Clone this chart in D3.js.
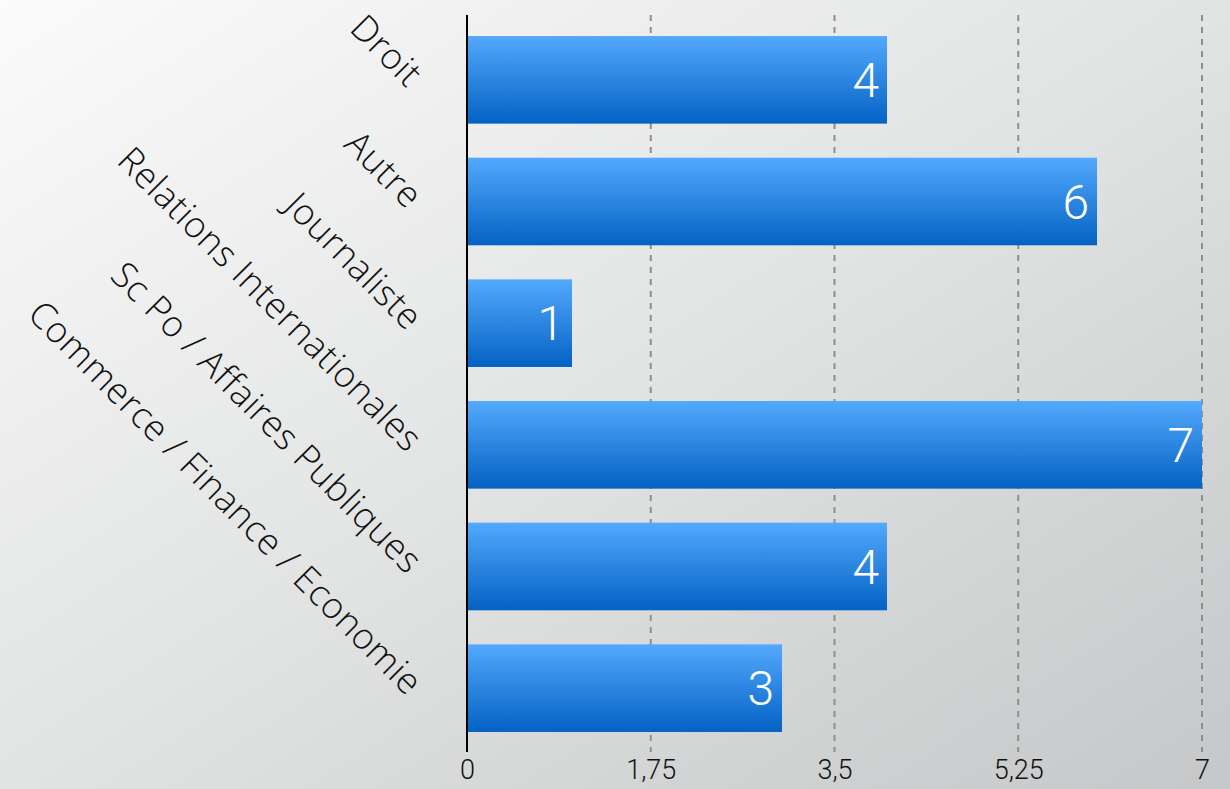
<!DOCTYPE html>
<html><head><meta charset="utf-8">
<script src="https://cdn.jsdelivr.net/npm/d3@7"></script>
<style>html,body{margin:0;padding:0;overflow:hidden}svg{display:block}</style>
</head><body>
<script>
const categories = ["Droit","Autre","Journaliste","Relations Internationales","Sc Po / Affaires Publiques","Commerce / Finance / Economie"];
const values = [4,6,1,7,4,3];
const tickValues = [0,1.75,3.5,5.25,7];
const tickLabels = ["0","1,75","3,5","5,25","7"];

const W=1230,H=789;
const svg=d3.select("body").append("svg").attr("width",W).attr("height",H);
const defs=svg.append("defs");
const bg=defs.append("linearGradient").attr("id","bg").attr("x1","0").attr("y1","0").attr("x2","1").attr("y2","1");
bg.append("stop").attr("offset","0").attr("stop-color","#fbfbfb");
bg.append("stop").attr("offset","0.5").attr("stop-color","#e2e3e3");
bg.append("stop").attr("offset","1").attr("stop-color","#c5c7c8");
const bar=defs.append("linearGradient").attr("id","bar").attr("x1","0").attr("y1","0").attr("x2","0").attr("y2","1");
bar.append("stop").attr("offset","0").attr("stop-color","#53a9fc");
bar.append("stop").attr("offset","1").attr("stop-color","#0462c4");
svg.append("rect").attr("width",W).attr("height",H).attr("fill","url(#bg)");

const x=d3.scaleLinear().domain([0,7]).range([467,1202]);
const y=d3.scaleBand().domain(categories).range([19,749]).paddingInner(0.28).paddingOuter(0.14);
const font="'Open Sans', 'Liberation Sans', sans-serif";
const numFont="Roboto, 'Liberation Sans', sans-serif";

// gridlines
svg.append("g").selectAll("line").data(tickValues.slice(1)).join("line")
  .attr("x1",d=>x(d)).attr("x2",d=>x(d)).attr("y1",15).attr("y2",752)
  .attr("stroke","#8e8e8e").attr("stroke-width",2).attr("stroke-dasharray","6,6");

// bars
svg.append("g").selectAll("rect").data(categories).join("rect")
  .attr("x",x(0)).attr("y",d=>y(d)).attr("width",(d,i)=>x(values[i])-x(0)).attr("height",y.bandwidth())
  .attr("fill","url(#bar)");

// value labels
svg.append("g").selectAll("text").data(categories).join("text")
  .attr("x",(d,i)=>x(values[i])-8).attr("y",d=>y(d)+y.bandwidth()/2).attr("dy","0.36em")
  .attr("text-anchor","end").attr("fill","#fff").attr("font-family",numFont).attr("font-weight",300)
  .attr("font-size",48).text((d,i)=>values[i]);

// y axis line
svg.append("line").attr("x1",x(0)).attr("x2",x(0)).attr("y1",15).attr("y2",752).attr("stroke","#000").attr("stroke-width",2);

// category labels
svg.append("g").selectAll("text").data(categories).join("text")
  .attr("transform",d=>`translate(416,${y(d)+y.bandwidth()/2}) rotate(45)`)
  .attr("text-anchor","end").attr("dy","0.35em").attr("letter-spacing","0.5px")
  .attr("font-family",font).attr("font-weight",300).attr("font-size",36).attr("fill","#111").text(d=>d);

// x tick labels
const xAxis=d3.axisBottom(x).tickValues(tickValues).tickFormat((d,i)=>tickLabels[i]).tickSize(0).tickPadding(0);
const gx=svg.append("g").attr("transform","translate(0,760)").call(xAxis);
gx.select(".domain").remove();
gx.selectAll("text").attr("font-family",numFont).attr("font-weight",300).attr("font-size",27).attr("fill","#111");
</script>
</body></html>
